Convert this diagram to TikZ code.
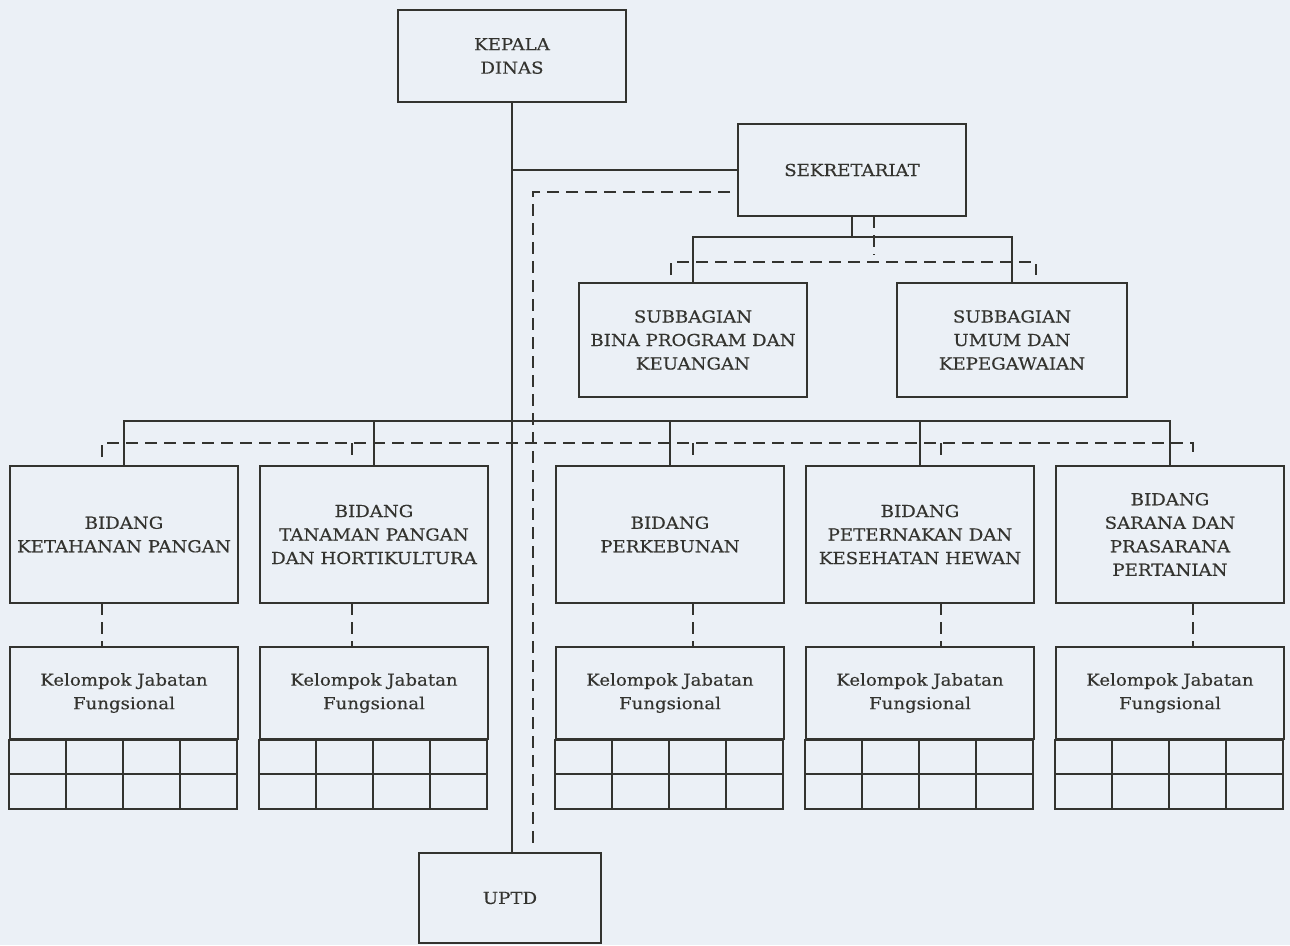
\documentclass[tikz,border=0pt]{standalone}
\usepackage{fontspec}
\setmainfont{DejaVu Serif}[FakeStretch=1.1,FakeBold=0.3]
\definecolor{ink}{HTML}{33332F}
\definecolor{bg}{HTML}{EBF0F6}
\begin{document}
\begin{tikzpicture}[x=1pt,y=-1pt,
  line width=2.1pt, draw=ink,
  box/.style={draw=ink, line width=2.1pt, align=center, inner sep=0pt, text=ink,
    font=\fontsize{16.5}{23.5}\selectfont},
  dsh/.style={draw=ink, line width=2.1pt, dash pattern=on 12pt off 7pt}]
\fill[bg] (0,0) rectangle (1290,945);
\useasboundingbox (0,0) rectangle (1290,945);

% top level
\node[box, minimum width=228pt, minimum height=92pt] (kd) at (512,56) {KEPALA\\DINAS};
\node[box, minimum width=228pt, minimum height=92pt] (sek) at (852,170) {SEKRETARIAT};
\node[box, minimum width=228pt, minimum height=114pt] (sb1) at (693,340) {SUBBAGIAN\\BINA PROGRAM DAN\\KEUANGAN};
\node[box, minimum width=230pt, minimum height=114pt] (sb2) at (1012,340) {SUBBAGIAN\\UMUM DAN\\KEPEGAWAIAN};
\node[box, minimum width=182pt, minimum height=90pt] (uptd) at (510,898) {UPTD};

% bidang
\node[box, minimum width=228pt, minimum height=137pt] (b1) at (124,534.5) {BIDANG\\KETAHANAN PANGAN};
\node[box, minimum width=228pt, minimum height=137pt] (b2) at (374,534.5) {BIDANG\\TANAMAN PANGAN\\DAN HORTIKULTURA};
\node[box, minimum width=228pt, minimum height=137pt] (b3) at (670,534.5) {BIDANG\\PERKEBUNAN};
\node[box, minimum width=228pt, minimum height=137pt] (b4) at (920,534.5) {BIDANG\\PETERNAKAN DAN\\KESEHATAN HEWAN};
\node[box, minimum width=228pt, minimum height=137pt] (b5) at (1170,534.5) {BIDANG\\SARANA DAN\\PRASARANA\\PERTANIAN};

% kelompok jabatan fungsional
\foreach \i/\x/\dx in {1/124/-22, 2/374/-22, 3/670/23, 4/920/21, 5/1170/23}{
  \node[box, minimum width=228pt, minimum height=92pt] (k\i) at (\x,693) {Kelompok Jabatan\\Fungsional};
  \draw[ink] (k\i.south west) rectangle ++(228,69);
  \draw[ink] (k\i.south west) ++(0,34) -- ++(228,0);
  \foreach \c in {57,114,171} \draw[ink] (k\i.south west) ++(\c,0) -- ++(0,69);
  \coordinate (bk\i) at (\x+\dx,603);
  \coordinate (kk\i) at (\x+\dx,647);
  \draw[dsh] (bk\i) -- (kk\i);
}

% solid connectors
\draw[ink] (kd.south) -- (kd.south |- uptd.north);
\draw[ink] (kd.south |- sek.west) -- (sek.west);
\coordinate (sbus) at (0,237);
\draw[ink] (sek.south) -- (sek.south |- sbus);
\draw[ink] (sb1.north) -- (sb1.north |- sbus) -- (sb2.north |- sbus) -- (sb2.north);
\coordinate (bbus) at (0,421);
\draw[ink] (b1.north) -- (b1.north |- bbus) -- (b5.north |- bbus) -- (b5.north);
\foreach \i in {2,3,4} \draw[ink] (b\i.north) -- (b\i.north |- bbus);

% dashed connectors
\coordinate (mdA) at (730,192);
\coordinate (mdB) at (533,192);
\coordinate (mdC) at (533,843);
\draw[dsh] (mdA) -- (mdB) -- (mdC);

\coordinate (sdA) at (874,216);
\coordinate (sdB) at (874,255);
\draw[dsh] (sdA) -- (sdB);
\coordinate (sdL) at (671,275);
\coordinate (sdL2) at (671,262);
\coordinate (sdR2) at (1036,262);
\coordinate (sdR) at (1036,275);
\draw[dsh] (sdL) -- (sdL2) -- (sdR2) -- (sdR);

\coordinate (bdL) at (102,457);
\coordinate (bdL2) at (102,443);
\coordinate (bdR2) at (1193,443);
\coordinate (bdR) at (1193,457);
\draw[dsh] (bdL) -- (bdL2) -- (bdR2) -- (bdR);
\foreach \x in {352,693,941}{
  \coordinate (bt\x) at (\x,443);
  \draw[dsh] (bt\x) -- ++(0,14);
}
\end{tikzpicture}
\end{document}
